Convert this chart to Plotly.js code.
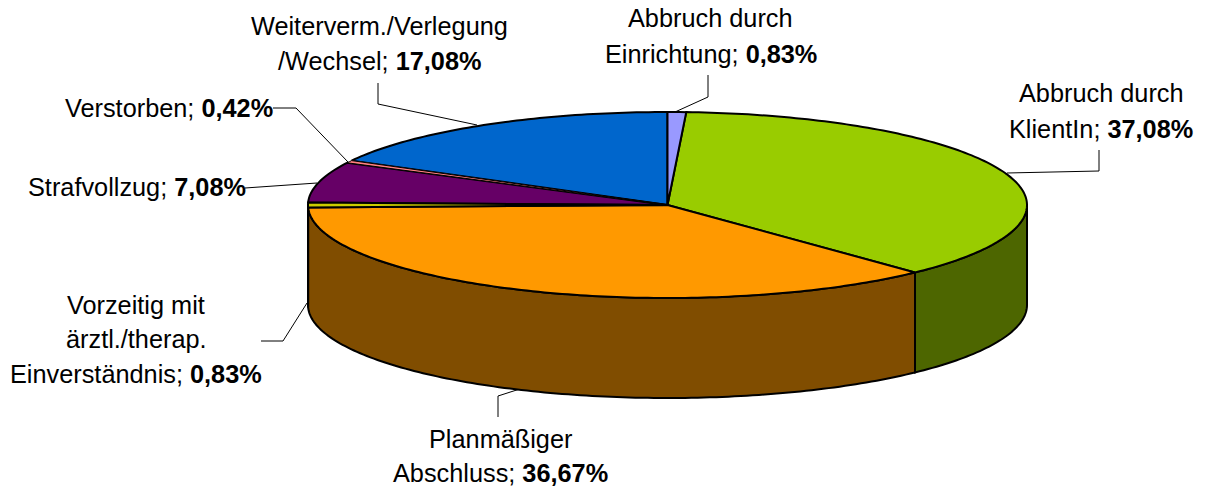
<!DOCTYPE html>
<html>
<head>
<meta charset="utf-8">
<script src="https://cdn.plot.ly/plotly-3.0.1.min.js"></script>
<style>html,body{margin:0;padding:0;background:#fff;overflow:hidden}#chart{width:1206px;height:489px}</style>
</head>
<body>
<div id="chart"></div>
<script>
var categories = ["Abbruch durch Einrichtung","Abbruch durch KlientIn","Planmäßiger Abschluss","Vorzeitig mit ärztl./therap. Einverständnis","Strafvollzug","Verstorben","Weiterverm./Verlegung/Wechsel"];
var values = [0.83,37.08,36.67,0.83,7.08,0.42,17.08];
var labelLeadLines = [["Abbruch durch"],["Abbruch durch"],["Planmäßiger"],["Vorzeitig mit","ärztl./therap."],[],[],["Weiterverm./Verlegung"]];
var labelLastLine = ["Einrichtung; ","KlientIn; ","Abschluss; ","Einverständnis; ","Strafvollzug; ","Verstorben; ","/Wechsel; "];
var topColors = ["#9999FF","#99CC00","#FF9900","#CCCC00","#660066","#FF8080","#0066CC"];
var sideColors = ["#4D4D80","#4D6600","#804D00","#666600","#330033","#804040","#003366"];
var labelX = [710.5,1101,500,136,137,169,379];
var labelY = [[18,54],[93,129],[439,473],[305,339,374],[187],[108],[26,61]];
var leaders = [
  [[708,75],[708,97],[675,112]],
  [[1099,150],[1099,171],[1007,173]],
  [[498,417],[498,396],[526,387]],
  [[261,341],[283,341],[307,303]],
  [[245,188],[317,183]],
  [[273,108],[296,108],[348,162]],
  [[378,83],[378,104],[477,125]]
];
var cx = 667.5, cy = 205, rx = 359.5, ry = 93, depth = 100;

function pt(deg, dy) {
  var r = deg * Math.PI / 180;
  return [cx + rx * Math.sin(r), cy - ry * Math.cos(r) + dy];
}
function arc(a, b, dy) {
  var n = Math.max(2, Math.ceil(Math.abs(b - a))), out = [];
  for (var i = 0; i <= n; i++) out.push(pt(a + (b - a) * i / n, dy));
  return out;
}
var total = values.reduce(function (s, v) { return s + v; }, 0);
var acc = 0, angles = values.map(function (v) {
  var a = [acc / total * 360, (acc + v) / total * 360]; acc += v; return a;
});
function poly(points, fill, name, v, w) {
  return {
    type: "scatter", mode: "lines", fill: "toself", fillcolor: fill,
    x: points.map(function (p) { return p[0]; }),
    y: points.map(function (p) { return p[1]; }),
    line: { color: "#000000", width: w, simplify: false },
    name: name, hoverinfo: "text", text: name + ": " + v, hoveron: "fills", showlegend: false
  };
}
function pct(v) { return v.toFixed(2).replace(".", ",") + "%"; }

var traces = [];
angles.forEach(function (a, i) {
  var s = Math.max(a[0], 90), e = Math.min(a[1], 270);
  if (e > s) {
    var front = arc(s, e, 0), back = arc(e, s, depth);
    traces.push(poly(front.concat(back, [front[0]]), sideColors[i], categories[i], pct(values[i]), 2));
  }
});
// widest slices first, so the thinnest ones stay visible between the outlines
var order = values.map(function (v, i) { return i; }).sort(function (p, q) { return values[q] - values[p]; });
order.forEach(function (i) {
  var a = angles[i], rim = arc(a[0], a[1], 0);
  traces.push(poly([[cx, cy]].concat(rim, [[cx, cy]]), topColors[i], categories[i], pct(values[i]), values[i] < 0.5 ? 1 : 2));
});

var fontBase = { family: "Liberation Sans, Arial, sans-serif", size: 25.3, color: "#000000" };
var annotations = [];
categories.forEach(function (c, i) {
  var lines = labelLeadLines[i].concat([labelLastLine[i] + "<b>" + pct(values[i]) + "</b>"]);
  lines.forEach(function (t, j) {
    annotations.push({ x: labelX[i], y: labelY[i][j], xref: "x", yref: "y", text: t, showarrow: false,
      xanchor: "center", yanchor: "middle", borderpad: 0, borderwidth: 0, font: fontBase });
  });
});
var shapes = leaders.map(function (l) {
  return { type: "path", xref: "x", yref: "y", layer: "below",
    path: l.map(function (p, k) { return (k ? "L" : "M") + p[0] + "," + p[1]; }).join(" "),
    line: { color: "#000000", width: 1 } };
});

Plotly.newPlot("chart", traces, {
  width: 1206, height: 489,
  margin: { l: 0, r: 0, t: 0, b: 0, pad: 0 },
  paper_bgcolor: "#ffffff", plot_bgcolor: "#ffffff",
  showlegend: false,
  xaxis: { range: [0, 1206], visible: false, fixedrange: true },
  yaxis: { range: [489, 0], visible: false, fixedrange: true },
  annotations: annotations, shapes: shapes
}, { displayModeBar: false });
</script>
</body>
</html>
